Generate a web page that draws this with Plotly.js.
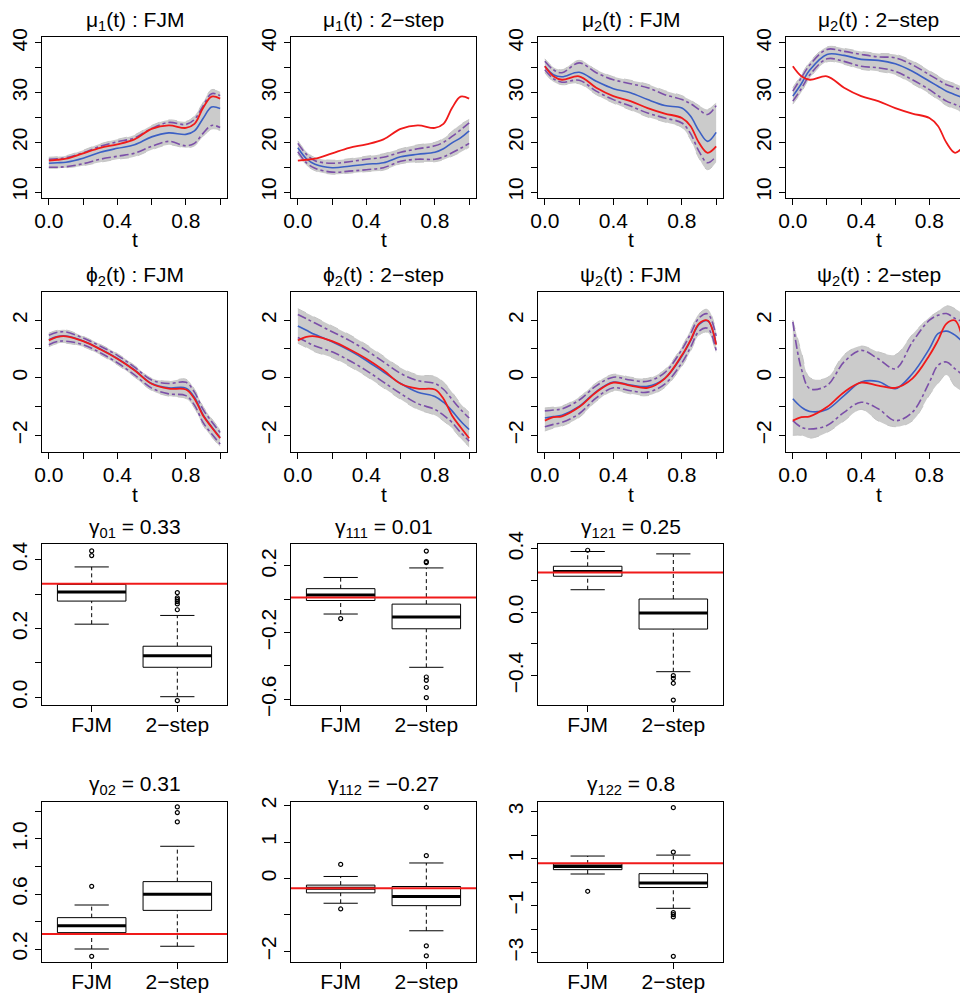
<!DOCTYPE html>
<html><head><meta charset="utf-8">
<script src="https://cdn.plot.ly/plotly-3.0.1.min.js"></script>
<style>html,body{margin:0;padding:0;background:#fff}#chart{width:960px;height:995px}</style>
</head><body><div id="chart"></div>
<script>
// ---------- data ----------
const T = [0, 0.05, 0.1, 0.2, 0.3, 0.4, 0.5, 0.6, 0.7, 0.8, 0.85, 0.9, 0.95, 1];

const mu1_true = [16.3, 16.5, 16.7, 17.8, 18.9, 19.6, 20.6, 22.7, 23.4, 22.9, 23.7, 26.9, 29.2, 28.8];
const mu1_fjm_mean = [15.8, 15.9, 16.0, 16.8, 18.0, 18.8, 19.5, 21.1, 21.9, 21.6, 22.3, 24.8, 27.1, 26.8];
const mu1_fjm_up = [16.6, 16.7, 16.9, 17.9, 19.2, 20.1, 20.9, 22.8, 24.0, 23.6, 24.6, 27.3, 29.8, 29.4];
const mu1_fjm_lo = [15.0, 15.0, 15.1, 15.7, 16.6, 17.2, 17.8, 19.2, 20.2, 19.3, 19.8, 21.8, 23.4, 23.0];
const mu1_fjm_gmax = [17.0, 17.1, 17.3, 18.4, 19.7, 20.6, 21.5, 23.4, 24.5, 24.2, 25.3, 28.0, 30.6, 30.2];
const mu1_fjm_gmin = [14.8, 14.8, 14.9, 15.3, 16.0, 16.6, 17.1, 18.5, 19.5, 18.9, 19.3, 21.2, 22.6, 22.4];

const mu1_2s_mean = [18.9, 16.7, 15.6, 14.9, 15.2, 15.6, 15.9, 17.1, 17.6, 18.0, 18.7, 19.9, 20.9, 22.3];
const mu1_2s_up = [19.8, 17.6, 16.3, 15.8, 16.1, 16.6, 17.0, 18.0, 18.7, 19.3, 20.0, 21.2, 22.5, 23.9];
const mu1_2s_lo = [18.1, 15.9, 14.8, 14.0, 14.2, 14.5, 14.9, 16.2, 16.6, 16.6, 17.1, 17.9, 18.8, 19.8];
const mu1_2s_gmax = [20.3, 18.1, 16.9, 16.4, 16.7, 17.2, 17.7, 18.7, 19.5, 20.0, 20.8, 22.2, 23.6, 24.6];
const mu1_2s_gmin = [17.6, 15.4, 14.3, 13.6, 13.8, 14.1, 14.4, 15.7, 16.0, 16.1, 16.5, 17.2, 18.0, 19.0];

const mu2_true = [35.3, 33.3, 32.6, 33.3, 31.0, 29.3, 28.3, 26.9, 25.8, 24.9, 23.3, 19.9, 17.9, 19.2];
const mu2_fjm_mean = [35.3, 33.6, 33.2, 34.1, 32.3, 30.8, 30.0, 28.6, 27.4, 26.9, 25.3, 22.3, 20.2, 22.0];
const mu2_fjm_up = [36.3, 34.6, 34.0, 36.0, 34.0, 32.6, 31.8, 31.0, 29.6, 28.6, 27.8, 26.6, 25.6, 27.4];
const mu2_fjm_lo = [34.6, 32.8, 32.1, 32.5, 30.3, 28.6, 27.3, 25.9, 24.9, 23.9, 21.8, 18.2, 15.9, 17.2];
const mu2_fjm_gmax = [36.8, 35.1, 34.6, 36.5, 34.6, 33.2, 32.5, 31.7, 30.4, 29.4, 28.5, 27.4, 26.6, 28.0];
const mu2_fjm_gmin = [34.0, 32.2, 31.6, 31.8, 29.6, 27.9, 26.5, 25.1, 24.1, 23.0, 20.6, 16.8, 14.5, 16.0];

const mu2_2s_mean = [29.3, 31.8, 34.6, 37.7, 37.5, 36.7, 36.5, 35.8, 34.3, 32.3, 31.3, 30.3, 29.6, 28.9];
const mu2_2s_up = [30.3, 33.0, 35.6, 38.7, 38.3, 37.7, 37.2, 37.0, 35.6, 33.6, 32.6, 31.6, 31.0, 30.3];
const mu2_2s_lo = [28.3, 30.8, 33.6, 36.8, 36.3, 35.3, 35.0, 34.3, 32.6, 30.6, 29.4, 28.3, 27.6, 26.9];
const mu2_2s_gmax = [31.0, 33.6, 36.2, 39.2, 38.9, 38.3, 37.9, 37.7, 36.4, 34.4, 33.4, 32.4, 31.8, 31.1];
const mu2_2s_gmin = [27.7, 30.1, 33.0, 36.2, 35.7, 34.7, 34.3, 33.6, 31.8, 29.8, 28.6, 27.4, 26.7, 26.0];

const phi2_true = [1.30, 1.42, 1.44, 1.27, 0.99, 0.66, 0.26, -0.21, -0.38, -0.41, -0.73, -1.31, -1.72, -2.10];
const phi2_fjm_mean = [1.32, 1.43, 1.45, 1.28, 1.00, 0.67, 0.27, -0.20, -0.35, -0.36, -0.68, -1.28, -1.70, -2.08];
const phi2_fjm_up = [1.48, 1.58, 1.59, 1.38, 1.10, 0.78, 0.37, -0.08, -0.20, -0.16, -0.50, -1.10, -1.52, -1.90];
const phi2_fjm_lo = [1.15, 1.26, 1.27, 1.15, 0.87, 0.52, 0.10, -0.36, -0.56, -0.62, -0.95, -1.55, -1.95, -2.30];
const phi2_fjm_gmax = [1.55, 1.65, 1.66, 1.44, 1.16, 0.84, 0.43, -0.02, -0.12, -0.05, -0.40, -1.00, -1.42, -1.80];
const phi2_fjm_gmin = [1.08, 1.19, 1.20, 1.08, 0.80, 0.45, 0.03, -0.44, -0.64, -0.72, -1.05, -1.65, -2.05, -2.40];

const phi2_2s_mean = [1.80, 1.65, 1.50, 1.25, 0.95, 0.60, 0.20, -0.20, -0.50, -0.65, -0.85, -1.15, -1.50, -1.80];
const phi2_2s_up = [2.20, 2.05, 1.90, 1.60, 1.30, 0.95, 0.55, 0.15, -0.10, -0.20, -0.40, -0.75, -1.10, -1.40];
const phi2_2s_lo = [1.40, 1.25, 1.10, 0.90, 0.60, 0.25, -0.15, -0.55, -0.90, -1.10, -1.30, -1.55, -1.90, -2.20];
const phi2_2s_gmax = [2.40, 2.25, 2.10, 1.80, 1.50, 1.15, 0.75, 0.35, 0.10, 0.05, -0.15, -0.50, -0.90, -1.20];
const phi2_2s_gmin = [1.20, 1.05, 0.90, 0.70, 0.40, 0.05, -0.35, -0.75, -1.10, -1.30, -1.50, -1.75, -2.10, -2.40];

const psi2_true = [-1.49, -1.37, -1.34, -1.02, -0.50, -0.17, -0.27, -0.35, -0.03, 0.78, 1.30, 1.88, 1.99, 1.15];
const psi2_fjm_mean = [-1.40, -1.35, -1.30, -1.00, -0.48, -0.15, -0.25, -0.30, -0.02, 0.75, 1.28, 1.85, 1.98, 1.18];
const psi2_fjm_up = [-1.15, -1.12, -1.08, -0.78, -0.28, 0.02, -0.08, -0.12, 0.18, 0.98, 1.52, 2.08, 2.22, 1.45];
const psi2_fjm_lo = [-1.70, -1.62, -1.55, -1.25, -0.70, -0.35, -0.45, -0.50, -0.22, 0.52, 1.05, 1.62, 1.72, 0.95];
const psi2_fjm_gmax = [-1.05, -1.02, -0.98, -0.68, -0.18, 0.12, 0.02, -0.02, 0.28, 1.08, 1.65, 2.22, 2.38, 1.60];
const psi2_fjm_gmin = [-1.85, -1.75, -1.68, -1.38, -0.82, -0.46, -0.56, -0.62, -0.34, 0.40, 0.92, 1.48, 1.58, 0.85];

const psi2_2s_mean = [-0.73, -1.02, -1.17, -1.10, -0.62, -0.15, -0.13, -0.38, 0.14, 1.01, 1.53, 1.62, 1.48, 1.20];
const psi2_2s_up = [1.94, 0.31, -0.38, -0.27, 0.55, 0.95, 0.66, 0.31, 1.24, 2.00, 2.17, 2.23, 2.06, 1.94];
const psi2_2s_lo = [-1.49, -1.72, -1.78, -1.66, -1.20, -0.85, -1.08, -1.49, -1.20, -0.15, 0.43, 0.55, 0.31, 0.08];
const psi2_2s_gmax = [2.00, 0.90, 0.00, 0.00, 0.80, 1.10, 0.90, 0.80, 1.50, 2.10, 2.30, 2.50, 2.40, 2.20];
const psi2_2s_gmin = [-2.00, -2.00, -2.10, -1.90, -1.50, -1.10, -1.50, -1.70, -1.50, -0.60, -0.20, 0.10, -0.30, -0.50];

// tick labels
const tTickVals = [0, 0.2, 0.4, 0.6, 0.8, 1.0];
const tTickText = ["0.0", "", "0.4", "", "0.8", ""];
const muTickVals = [10, 15, 20, 25, 30, 35, 40];
const muTickText = ["10", "", "20", "", "30", "", "40"];
const fnTickVals = [-2, -1, 0, 1, 2];
const fnTickText = ["\u22122", "", "0", "", "2"];

// boxplot data: [lower whisker, Q1, median, Q3, upper whisker]
const boxCats = ["FJM", "2\u2212step"];
const g01_FJM = [0.2125, 0.2795, 0.3057, 0.328, 0.3786];
const g01_FJM_out = [0.425, 0.4116];
const g01_2s = [0.002, 0.0874, 0.1205, 0.1485, 0.2378];
const g01_2s_out = [0.304, 0.289, 0.2835, 0.2778, 0.2712, 0.2544, -0.0096];
const g111_FJM = [-0.0884, -0.0074, 0.0264, 0.0637, 0.1307];
const g111_FJM_out = [-0.116];
const g111_2s = [-0.408, -0.177, -0.106, -0.029, 0.188];
const g111_2s_out = [0.289, 0.2255, 0.22, -0.466, -0.486, -0.529, -0.59];
const g121_FJM = [0.142, 0.227, 0.257, 0.29, 0.383];
const g121_FJM_out = [0.391];
const g121_2s = [-0.375, -0.106, -0.005, 0.0835, 0.368];
const g121_2s_out = [-0.40, -0.417, -0.448, -0.554];
const g02_FJM = [0.20, 0.319, 0.37, 0.428, 0.52];
const g02_FJM_out = [0.656, 0.147];
const g02_2s = [0.22, 0.481, 0.598, 0.69, 0.947];
const g02_2s_out = [1.233, 1.192, 1.124];
const g112_FJM = [-0.679, -0.394, -0.27, -0.182, 0.055];
const g112_FJM_out = [0.386, -0.836];
const g112_2s = [-1.434, -0.745, -0.497, -0.22, 0.425];
const g112_2s_out = [1.95, 0.626, -1.848, -2.124];
const g122_FJM = [0.345, 0.53, 0.67, 0.77, 1.11];
const g122_FJM_out = [-0.39];
const g122_2s = [-1.115, -0.23, -0.04, 0.36, 1.15];
const g122_2s_out = [3.17, 1.28, -1.30, -1.38, -1.48, -3.16];
const gammaTrue = [0.33, 0.01, 0.25, 0.31, -0.27, 0.8];

// ---------- layout helpers ----------
const W = 960, H = 995;
const colPx = [[42, 227], [291, 476], [538, 723], [786, 960]];
const rowPx = [[37, 198], [292, 452], [543.5, 705], [802, 962]];
const dx = c => [colPx[c][0] / W, colPx[c][1] / W];
const dy = r => [1 - rowPx[r][1] / H, 1 - rowPx[r][0] / H];
const FONT = "Liberation Sans, Arial, Helvetica, sans-serif";
const FS = 21;
const RED = "#f01a1a", BLUE = "#3b5fc4", PURPLE = "#7b4fa8", GRAY = "#c4c4c4", GFILL = "#cbcbcb";

const traces = [];
const layout = {
  width: W, height: H, margin: {l: 0, r: 0, t: 0, b: 0},
  paper_bgcolor: "#fff", plot_bgcolor: "#fff", showlegend: false, hovermode: false,
  font: {family: FONT, size: FS, color: "#000"},
  annotations: [], shapes: []
};

function axisBase() {
  return {showline: true, linecolor: "#000", linewidth: 1, mirror: true,
    ticks: "outside", ticklen: 6, tickwidth: 1, tickcolor: "#000",
    showgrid: false, zeroline: false, tickfont: {family: FONT, size: FS, color: "#000"}, fixedrange: true};
}

function addAxes(n, row, col, xr, yr, xtv, xtt, ytv, ytt, clipRight) {
  const xa = axisBase(), ya = axisBase();
  xa.domain = dx(col); xa.range = xr; xa.tickvals = xtv; xa.ticktext = xtt; xa.anchor = n === 1 ? "y" : "y" + n;
  xa.ticklabelstandoff = row >= 2 ? -5 : -2;
  ya.domain = dy(row); ya.range = yr; ya.tickvals = ytv; ya.ticktext = ytt; ya.anchor = n === 1 ? "x" : "x" + n;
  ya.tickangle = -90;
  if (clipRight) ya.mirror = false;
  layout[n === 1 ? "xaxis" : "xaxis" + n] = xa;
  layout[n === 1 ? "yaxis" : "yaxis" + n] = ya;
}

function title(text, row, col, ypx) {
  const c = colPx[col];
  const right = col === 3 ? 971 : c[1];
  layout.annotations.push({text: text, xref: "paper", yref: "paper",
    x: (c[0] + right) / 2 / W, y: 1 - ypx / H, xanchor: "center", yanchor: "middle",
    showarrow: false, font: {family: FONT, size: FS, color: "#000"}});
}

// ---------- line panels ----------
const linePanels = [
  {t: "\u03bc<sub>1</sub>(t) : FJM", true_: mu1_true, m: mu1_fjm_mean, u: mu1_fjm_up, l: mu1_fjm_lo, gx: mu1_fjm_gmax, gn: mu1_fjm_gmin},
  {t: "\u03bc<sub>1</sub>(t) : 2\u2212step", true_: mu1_true, m: mu1_2s_mean, u: mu1_2s_up, l: mu1_2s_lo, gx: mu1_2s_gmax, gn: mu1_2s_gmin},
  {t: "\u03bc<sub>2</sub>(t) : FJM", true_: mu2_true, m: mu2_fjm_mean, u: mu2_fjm_up, l: mu2_fjm_lo, gx: mu2_fjm_gmax, gn: mu2_fjm_gmin},
  {t: "\u03bc<sub>2</sub>(t) : 2\u2212step", true_: mu2_true, m: mu2_2s_mean, u: mu2_2s_up, l: mu2_2s_lo, gx: mu2_2s_gmax, gn: mu2_2s_gmin},
  {t: "\u03d5<sub>2</sub>(t) : FJM", true_: phi2_true, m: phi2_fjm_mean, u: phi2_fjm_up, l: phi2_fjm_lo, gx: phi2_fjm_gmax, gn: phi2_fjm_gmin},
  {t: "\u03d5<sub>2</sub>(t) : 2\u2212step", true_: phi2_true, m: phi2_2s_mean, u: phi2_2s_up, l: phi2_2s_lo, gx: phi2_2s_gmax, gn: phi2_2s_gmin},
  {t: "\u03c8<sub>2</sub>(t) : FJM", true_: psi2_true, m: psi2_fjm_mean, u: psi2_fjm_up, l: psi2_fjm_lo, gx: psi2_fjm_gmax, gn: psi2_fjm_gmin},
  {t: "\u03c8<sub>2</sub>(t) : 2\u2212step", true_: psi2_true, m: psi2_2s_mean, u: psi2_2s_up, l: psi2_2s_lo, gx: psi2_2s_gmax, gn: psi2_2s_gmin}
];

linePanels.forEach((p, i) => {
  const n = i + 1, row = Math.floor(i / 4), col = i % 4;
  const xs = n === 1 ? "x" : "x" + n, ys = n === 1 ? "y" : "y" + n;
  const xr = col === 3 ? [-0.04, 0.979] : [-0.04, 1.04];
  const yr = row === 0 ? [8.8, 41.2] : [-2.58, 2.98];
  addAxes(n, row, col, xr, yr, tTickVals, tTickText,
    row === 0 ? muTickVals : fnTickVals, row === 0 ? muTickText : fnTickText, col === 3);
  const sp = {shape: "spline", smoothing: 1};
  traces.push({x: T, y: p.gn, xaxis: xs, yaxis: ys, mode: "lines", line: Object.assign({color: GRAY, width: 1, dash: "dash"}, sp)});
  traces.push({x: T, y: p.gx, xaxis: xs, yaxis: ys, mode: "lines", fill: "tonexty", fillcolor: GFILL, line: Object.assign({color: GRAY, width: 1, dash: "dash"}, sp)});
  traces.push({x: T, y: p.u, xaxis: xs, yaxis: ys, mode: "lines", line: Object.assign({color: PURPLE, width: 1.6, dash: "dashdot"}, sp)});
  traces.push({x: T, y: p.l, xaxis: xs, yaxis: ys, mode: "lines", line: Object.assign({color: PURPLE, width: 1.6, dash: "dashdot"}, sp)});
  traces.push({x: T, y: p.m, xaxis: xs, yaxis: ys, mode: "lines", line: Object.assign({color: BLUE, width: 1.6}, sp)});
  traces.push({x: T, y: p.true_, xaxis: xs, yaxis: ys, mode: "lines", line: Object.assign({color: RED, width: 1.8}, sp)});
  title(p.t, row, col, row === 0 ? 21 : 276);
  layout.annotations.push({text: "t", xref: "paper", yref: "paper",
    x: (colPx[col][0] + (col === 3 ? 971 : colPx[col][1])) / 2 / W, y: 1 - (row === 0 ? 239 : 494) / H,
    xanchor: "center", yanchor: "middle", showarrow: false, font: {family: FONT, size: FS, color: "#000"}});
});

// ---------- box panels ----------
const boxPanels = [
  {t: "\u03b3<sub>01</sub> = 0.33", a: g01_FJM, ao: g01_FJM_out, b: g01_2s, bo: g01_2s_out, yr: [-0.0221, 0.4466], tv: [0, 0.1, 0.2, 0.3, 0.4], tt: ["0.0", "", "0.2", "", "0.4"]},
  {t: "\u03b3<sub>111</sub> = 0.01", a: g111_FJM, ao: g111_FJM_out, b: g111_2s, bo: g111_2s_out, yr: [-0.634, 0.3345], tv: [-0.6, -0.4, -0.2, 0, 0.2], tt: ["\u22120.6", "", "\u22120.2", "", "0.2"]},
  {t: "\u03b3<sub>121</sub> = 0.25", a: g121_FJM, ao: g121_FJM_out, b: g121_2s, bo: g121_2s_out, yr: [-0.585, 0.4335], tv: [-0.4, -0.2, 0, 0.2, 0.4], tt: ["\u22120.4", "", "0.0", "", "0.4"]},
  {t: "\u03b3<sub>02</sub> = 0.31", a: g02_FJM, ao: g02_FJM_out, b: g02_2s, bo: g02_2s_out, yr: [0.1055, 1.269], tv: [0.2, 0.4, 0.6, 0.8, 1.0, 1.2], tt: ["0.2", "", "0.6", "", "1.0", ""]},
  {t: "\u03b3<sub>112</sub> = \u22120.27", a: g112_FJM, ao: g112_FJM_out, b: g112_2s, bo: g112_2s_out, yr: [-2.29, 2.097], tv: [-2, -1, 0, 1, 2], tt: ["\u22122", "", "0", "1", "2"]},
  {t: "\u03b3<sub>122</sub> = 0.8", a: g122_FJM, ao: g122_FJM_out, b: g122_2s, bo: g122_2s_out, yr: [-3.4, 3.41], tv: [-3, -2, -1, 0, 1, 2, 3], tt: ["\u22123", "", "\u22121", "", "1", "", "3"]}
];

function boxTraces(xs, ys, pos, s, outs) {
  const hw = 0.4, cw = 0.2;
  const blk = {color: "#000", width: 1};
  traces.push({x: [pos, pos], y: [s[3], s[4]], xaxis: xs, yaxis: ys, mode: "lines", line: {color: "#000", width: 1, dash: "4px,3px"}});
  traces.push({x: [pos, pos], y: [s[0], s[1]], xaxis: xs, yaxis: ys, mode: "lines", line: {color: "#000", width: 1, dash: "4px,3px"}});
  traces.push({x: [pos - cw, pos + cw], y: [s[4], s[4]], xaxis: xs, yaxis: ys, mode: "lines", line: blk});
  traces.push({x: [pos - cw, pos + cw], y: [s[0], s[0]], xaxis: xs, yaxis: ys, mode: "lines", line: blk});
  traces.push({x: [pos - hw, pos + hw, pos + hw, pos - hw, pos - hw], y: [s[1], s[1], s[3], s[3], s[1]],
    xaxis: xs, yaxis: ys, mode: "lines", fill: "toself", fillcolor: "#fff", line: blk});
  traces.push({x: [pos - hw, pos + hw], y: [s[2], s[2]], xaxis: xs, yaxis: ys, mode: "lines", line: {color: "#000", width: 3}});
  traces.push({x: outs.map(() => pos), y: outs, xaxis: xs, yaxis: ys, mode: "markers",
    marker: {symbol: "circle-open", size: 4, color: "#000", line: {width: 1.2, color: "#000"}}});
}

boxPanels.forEach((p, i) => {
  const n = 9 + i, row = 2 + Math.floor(i / 3), col = i % 3;
  const xs = "x" + n, ys = "y" + n;
  addAxes(n, row, col, [0.42, 2.58], p.yr, [1, 2], boxCats, p.tv, p.tt, false);
  boxTraces(xs, ys, 1, p.a, p.ao);
  boxTraces(xs, ys, 2, p.b, p.bo);
  layout.shapes.push({type: "line", xref: xs + " domain", yref: ys, x0: 0, x1: 1, y0: gammaTrue[i], y1: gammaTrue[i],
    line: {color: RED, width: 2}, layer: "above"});
  title(p.t, row, col, row === 2 ? 528 : 785);
});

Plotly.newPlot("chart", traces, layout, {staticPlot: true, displayModeBar: false});
</script>
</body></html>
